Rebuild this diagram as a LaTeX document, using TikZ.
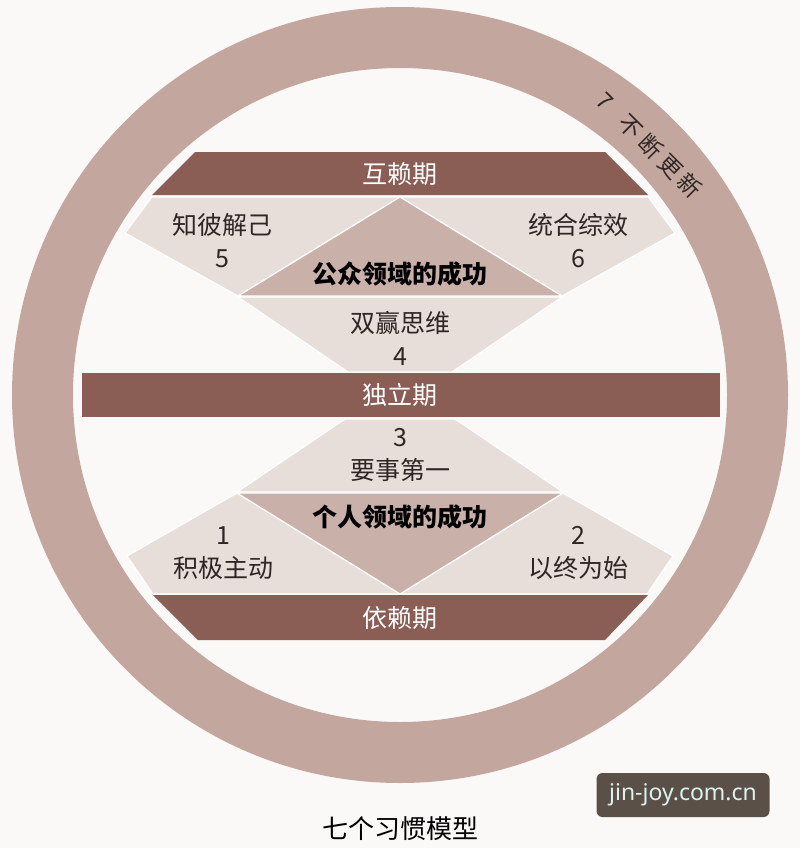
\documentclass[tikz,border=0pt]{standalone}
\usepackage{fontspec}
\setmainfont{Noto Sans CJK SC}
\newfontfamily\webfont{Noto Sans}
\definecolor{paperc}{HTML}{FAF9F7}
\definecolor{ringc}{HTML}{C3A79E}
\definecolor{barc}{HTML}{8A5D55}
\definecolor{lightc}{HTML}{E7DED9}
\definecolor{midc}{HTML}{C9B0A8}
\definecolor{inkc}{HTML}{2E2624}
\definecolor{markc}{HTML}{5A5048}
\definecolor{marktext}{HTML}{DDF2EF}
\begin{document}
\begin{tikzpicture}[x=1pt, y=-1pt,
    piece/.style={draw=white, line width=1.2pt},
    bartext/.style={text=white, font=\fontsize{25}{25}\selectfont},
    habit/.style={text=inkc, align=center, font=\fontsize{25}{33}\selectfont},
    area/.style={text=black, font=\fontsize{25}{25}\selectfont\bfseries},
    ringtext/.style={text=inkc, inner sep=0pt, font=\fontsize{23}{23}\selectfont}]
  \fill[paperc] (0,0) rectangle (800,848);
  \useasboundingbox (0,0) rectangle (800,848);

  % the ring
  \fill[ringc, even odd rule] (400,395) circle (388pt) (400,395) circle (327pt);
  \begin{scope}[shift={(400,395)}]
    \node[ringtext, rotate=-45] (renew) at (-45:353)
      {7\hspace{18pt}不\hspace{5pt}断\hspace{5pt}更\hspace{5pt}新};
  \end{scope}

  % upper half
  \fill[barc] (195,152) -- (605,152) -- (648,195) -- (152,195) -- cycle;
  \fill[lightc, piece] (152,197) -- (400,197) -- (238,296) -- (125,233) -- cycle;
  \fill[lightc, piece] (648,197) -- (400,197) -- (562,296) -- (675,233) -- cycle;
  \fill[lightc, piece] (238,297) -- (562,297) -- (452,372) -- (348,372) -- cycle;
  \fill[midc, piece] (400,197) -- (562,296) -- (238,296) -- cycle;

  % middle bar
  \fill[barc] (82,373) rectangle (720,417);

  % lower half
  \fill[lightc, piece] (345,419) -- (455,419) -- (563,492) -- (237,492) -- cycle;
  \fill[lightc, piece] (237,493) -- (400,594) -- (153,594) -- (127,556) -- cycle;
  \fill[lightc, piece] (563,493) -- (400,594) -- (647,594) -- (673,556) -- cycle;
  \fill[midc, piece] (237,493) -- (563,493) -- (400,594) -- cycle;
  \fill[barc] (153,595) -- (648,595) -- (605,640) -- (198,640) -- cycle;

  % labels
  \node[bartext] (inter) at (400,174) {互赖期};
  \node[bartext] (indep) at (400,395) {独立期};
  \node[bartext] (depend) at (400,618) {依赖期};

  \node[habit] (h5) at (222,241) {知彼解己\\5};
  \node[habit] (h6) at (578,241) {统合综效\\6};
  \node[area] (public) at (400,274) {公众领域的成功};
  \node[habit] (h4) at (400,338) {双赢思维\\4};

  \node[habit] (h3) at (400,455) {3\\要事第一};
  \node[area] (private) at (400,517) {个人领域的成功};
  \node[habit] (h1) at (223,553) {1\\积极主动};
  \node[habit] (h2) at (578,553) {2\\以终为始};

  % caption and mark
  \node[text=black, font=\fontsize{26}{26}\selectfont] (title) at (400,829) {七个习惯模型};
  \node[fill=markc, rounded corners=6pt, minimum width=173pt, minimum height=44pt,
        text=marktext, font=\webfont\fontsize{23}{23}\selectfont] (mark) at (683,795) {jin-joy.com.cn};
\end{tikzpicture}
\end{document}
